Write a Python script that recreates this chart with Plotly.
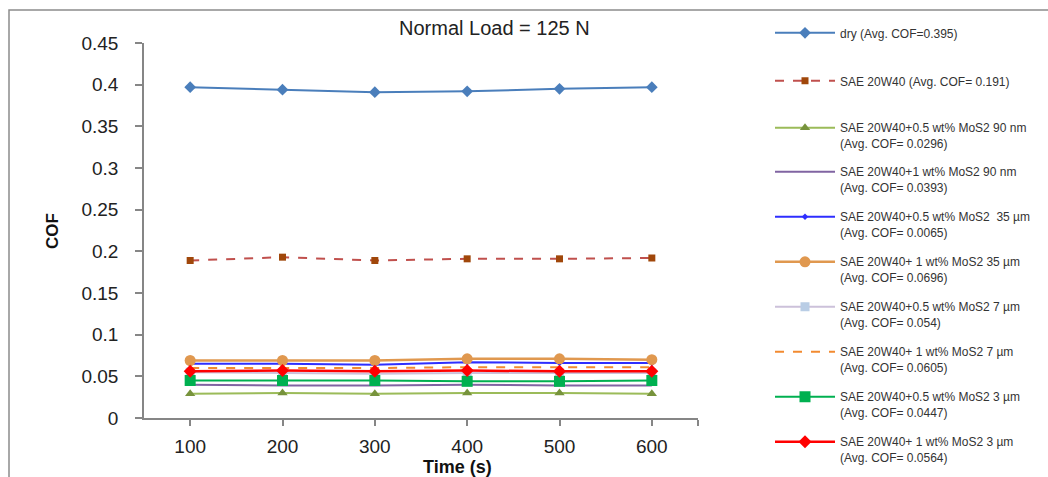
import plotly.graph_objects as go

# ---------------- data ----------------
time_s = [100, 200, 300, 400, 500, 600]
x_tick_labels = ["100", "200", "300", "400", "500", "600"]

series_names = [
    "dry (Avg. COF=0.395)",
    "SAE 20W40 (Avg. COF= 0.191)",
    "SAE 20W40+0.5 wt% MoS2 90 nm<br>(Avg. COF= 0.0296)",
    "SAE 20W40+1 wt% MoS2 90 nm<br>(Avg. COF= 0.0393)",
    "SAE 20W40+0.5 wt% MoS2  35 µm<br>(Avg. COF= 0.0065)",
    "SAE 20W40+ 1 wt% MoS2 35 µm<br>(Avg. COF= 0.0696)",
    "SAE 20W40+0.5 wt% MoS2 7 µm<br>(Avg. COF= 0.054)",
    "SAE 20W40+ 1 wt% MoS2 7 µm<br>(Avg. COF= 0.0605)",
    "SAE 20W40+0.5 wt% MoS2 3 µm<br>(Avg. COF= 0.0447)",
    "SAE 20W40+ 1 wt% MoS2 3 µm<br>(Avg. COF= 0.0564)",
]

cof_dry = [0.397, 0.394, 0.391, 0.392, 0.395, 0.397]
cof_20w40 = [0.189, 0.193, 0.189, 0.191, 0.191, 0.192]
cof_05_90nm = [0.029, 0.030, 0.029, 0.030, 0.030, 0.029]
cof_1_90nm = [0.040, 0.039, 0.039, 0.040, 0.039, 0.039]
cof_05_35um = [0.065, 0.065, 0.064, 0.067, 0.066, 0.066]
cof_1_35um = [0.069, 0.069, 0.069, 0.071, 0.071, 0.070]
cof_05_7um = [0.055, 0.054, 0.053, 0.054, 0.054, 0.054]
cof_1_7um = [0.060, 0.060, 0.060, 0.061, 0.061, 0.061]
cof_05_3um = [0.045, 0.045, 0.045, 0.044, 0.044, 0.045]
cof_1_3um = [0.056, 0.057, 0.056, 0.057, 0.056, 0.056]

all_values = [cof_dry, cof_20w40, cof_05_90nm, cof_1_90nm, cof_05_35um,
              cof_1_35um, cof_05_7um, cof_1_7um, cof_05_3um, cof_1_3um]

# ---------------- styles ----------------
styles = [
    dict(line=dict(color="#4A7EBB", width=2), marker=dict(symbol="diamond", size=9, color="#4A7EBB")),
    dict(line=dict(color="#C0504D", width=2, dash="dash"), marker=dict(symbol="square", size=7, color="#A0470A")),
    dict(line=dict(color="#9BBB59", width=2), marker=dict(symbol="triangle-up", size=9, color="#77933C")),
    dict(line=dict(color="#8064A2", width=2), marker=dict(size=1, opacity=0)),
    dict(line=dict(color="#2E2EFF", width=2), marker=dict(symbol="diamond", size=5, color="#2E2EFF")),
    dict(line=dict(color="#E0984F", width=2.5), marker=dict(symbol="circle", size=11, color="#E0984F")),
    dict(line=dict(color="#CCC1DA", width=2), marker=dict(symbol="square", size=9, color="#B9CDE5")),
    dict(line=dict(color="#F28A30", width=2, dash="dash"), marker=dict(size=1, opacity=0)),
    dict(line=dict(color="#00B050", width=2), marker=dict(symbol="square", size=11, color="#00B050")),
    dict(line=dict(color="#FF0000", width=2.5), marker=dict(symbol="diamond", size=10, color="#FF0000")),
]

# legend marker y (pixels)
legend_py = [33, 81, 128, 172, 217, 262, 307, 352, 397, 442]

# plot-area pixel geometry
W, H = 1048, 477
L, R, T, B = 144, 698, 43, 418


def px2x(px):
    return (px - L) / (R - L)


def px2y(py):
    return (B - py) / (B - T)


fig = go.Figure()
legend_layouts = {}
for i, (name, vals, st) in enumerate(zip(series_names, all_values, styles)):
    lname = "legend" if i == 0 else f"legend{i + 1}"
    mode = "lines" if st["marker"].get("opacity") == 0 else "lines+markers"
    fig.add_trace(go.Scatter(
        x=time_s, y=vals, name=name, mode=mode,
        line=st["line"], marker=st["marker"], legend=lname,
    ))
    two = "<br>" in name
    cy = legend_py[i] + (8 if two else 0)
    legend_layouts[lname] = dict(
        x=px2x(770), y=px2y(cy), xanchor="left", yanchor="middle",
        bgcolor="rgba(0,0,0,0)", borderwidth=0, itemwidth=60,
        valign="top", font=dict(family="Liberation Sans", size=12, color="#333333"),
        itemclick=False, itemdoubleclick=False,
    )

axis_color = "#868686"
tick_font = dict(family="Liberation Sans", size=19, color="#222222")

fig.update_layout(
    width=W, height=H,
    margin=dict(l=L, r=W - R, t=T, b=H - B, autoexpand=False),
    paper_bgcolor="white", plot_bgcolor="white",
    showlegend=True,
    **legend_layouts,
    xaxis=dict(
        range=[50, 650], tickmode="array",
        tickvals=time_s + [650], ticktext=x_tick_labels + [""],
        ticks="outside", ticklen=6, tickwidth=1.5, tickcolor=axis_color,
        showline=True, linecolor=axis_color, linewidth=1.5,
        showgrid=False, zeroline=False, tickfont=tick_font,
        ticklabelstandoff=4, automargin=False,
    ),
    yaxis=dict(
        range=[0, 0.45], dtick=0.05, tick0=0,
        ticks="outside", ticklen=7, tickwidth=1.5, tickcolor=axis_color,
        showline=True, linecolor=axis_color, linewidth=1.5,
        showgrid=False, zeroline=False, tickfont=tick_font,
        ticklabelstandoff=13, automargin=False,
    ),
    annotations=[
        dict(text="Normal Load = 125 N", x=px2x(494), y=px2y(28), xref="paper", yref="paper",
             showarrow=False, xanchor="center", yanchor="middle",
             font=dict(family="Liberation Sans", size=20, color="#222222")),
        dict(text="<b>Time (s)</b>", x=px2x(457), y=px2y(467), xref="paper", yref="paper",
             showarrow=False, xanchor="center", yanchor="middle",
             font=dict(family="Liberation Sans", size=18, color="#111111")),
        dict(text="<b>COF</b>", x=px2x(52), y=px2y(231), xref="paper", yref="paper",
             showarrow=False, xanchor="center", yanchor="middle", textangle=-90,
             font=dict(family="Liberation Sans", size=17, color="#111111")),
    ],
    shapes=[
        dict(type="path", xref="paper", yref="paper",
             path=f"M {px2x(9)},{px2y(490)} L {px2x(9)},{px2y(10)} L {px2x(1060)},{px2y(10)}",
             line=dict(color="#8C8C8C", width=1.5)),
    ],
)

fig.write_html("out.html")
